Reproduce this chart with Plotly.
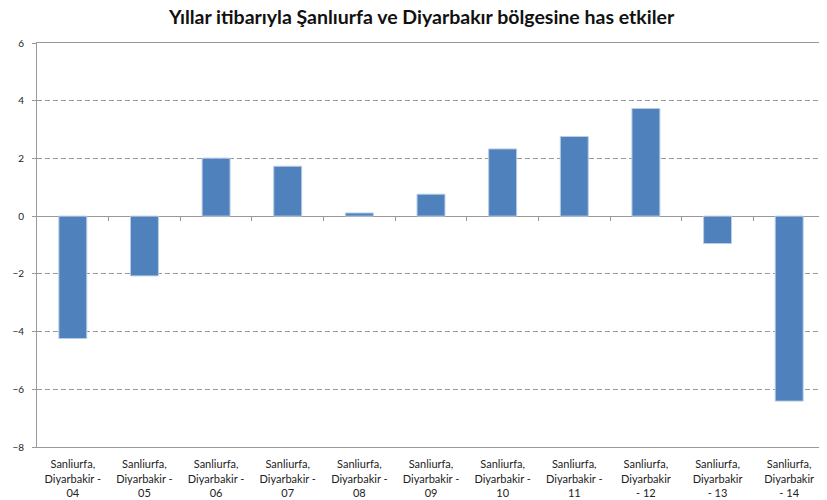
import plotly.graph_objects as go

# categories and values
years = ['04', '05', '06', '07', '08', '09', '10', '11', '12', '13', '14']
labels = ['Sanliurfa,<br>Diyarbakir -<br>' + y for y in years[:8]] + \
         ['Sanliurfa,<br>Diyarbakir<br>- ' + y for y in years[8:]]
values = [-4.24, -2.07, 2.01, 1.73, 0.11, 0.76, 2.33, 2.76, 3.73, -0.95, -6.41]
y_ticks = [6, 4, 2, 0, -2, -4, -6, -8]
boundaries = [i + 0.5 for i in range(len(years) - 1)]

font = 'Lato, "Open Sans", sans-serif'
grey = '#999999'

fig = go.Figure()
fig.add_trace(go.Bar(
    x=list(range(len(years))), y=values,
    marker=dict(color='#4f81bd', line=dict(color='#b9cde5', width=1)),
    showlegend=False,
))

# the page body adds an 8px offset top/left, so the figure is a bit smaller
fig.update_layout(
    width=819, height=492,
    margin=dict(l=29, r=2, t=35, b=53),
    paper_bgcolor='white', plot_bgcolor='white',
    bargap=0.61,
    font=dict(family=font, size=10, color='#222222'),
    title=dict(
        text='<b>Yıllar itibarıyla Şanlıurfa ve Diyarbakır bölgesine has etkiler</b>',
        x=0.505, xref='container', xanchor='center',
        y=0.995, yref='container', yanchor='top', pad=dict(t=0),
        font=dict(family=font, size=19.5, color='#111111'),
    ),
    xaxis=dict(
        range=[-0.5, len(years) - 0.5], automargin=False,
        tickvals=list(range(len(years))), ticktext=labels,
        showgrid=False, zeroline=False,
        showline=True, mirror=True, linecolor=grey, linewidth=1,
        ticks='', ticklabelstandoff=7,
        tickfont=dict(size=11, color='#222222'),
    ),
    xaxis2=dict(
        overlaying='x', anchor='free', position=8 / 14,
        range=[-0.5, len(years) - 0.5],
        tickvals=boundaries, showticklabels=False,
        ticks='outside', ticklen=4, tickcolor=grey,
        showgrid=False, zeroline=False, showline=False,
    ),
    yaxis=dict(
        range=[-8, 6], tickvals=y_ticks, automargin=False,
        showgrid=True, gridcolor=grey, griddash='5px,3px', gridwidth=1,
        zeroline=True, zerolinecolor=grey, zerolinewidth=1,
        showline=True, mirror=True, linecolor=grey, linewidth=1,
        ticks='outside', ticklen=4, tickcolor=grey, ticklabelstandoff=6,
        tickfont=dict(size=10, color='#222222'),
    ),
)

# empty trace so the tick axis along zero is drawn
fig.add_trace(go.Scatter(x=[], y=[], xaxis='x2', yaxis='y', showlegend=False))

fig.write_html('out.html')
